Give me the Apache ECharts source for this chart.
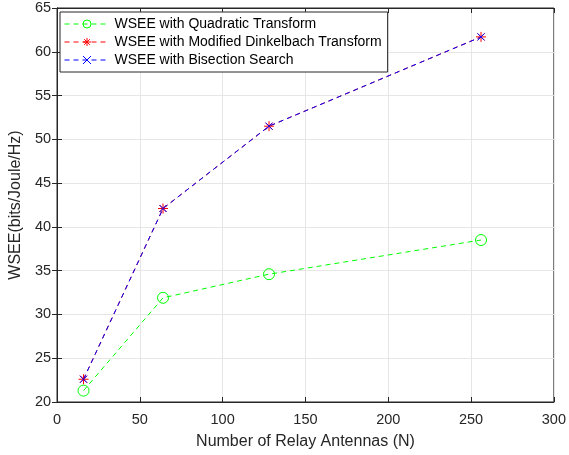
<!DOCTYPE html>
<html>
<head>
<meta charset="utf-8">
<script src="https://cdn.jsdelivr.net/npm/echarts@6/dist/echarts.min.js"></script>
<style>
  html, body { margin: 0; padding: 0; background: #fff; }
  #chart { width: 569px; height: 455px; }
</style>
</head>
<body>
<div id="chart"></div>
<script>
// relay antenna counts
const antennas = [16, 64, 128, 256]
// WSEE values
const quadratic = [21.3, 31.9, 34.6, 38.5]
const dinkelbach = [22.6, 42.1, 51.5, 61.7]
const bisection = [22.6, 42.1, 51.5, 61.7]

const names = [
  'WSEE with Quadratic Transform',
  'WSEE with Modified Dinkelbach Transform',
  'WSEE with Bisection Search'
]

const starPath = 'path://M0,-5L0,5M-5,0L5,0M-3.5,-3.5L3.5,3.5M-3.5,3.5L3.5,-3.5'
const crossPath = 'path://M-4,-4L4,4M-4,4L4,-4'

const font = 'Liberation Sans, Arial, sans-serif'
const pair = (ys) => antennas.map((x, i) => [x, ys[i]])

const chart = echarts.init(document.getElementById('chart'))

const baseAxis = {
  axisLine: { show: true, lineStyle: { color: '#262626', width: 1 } },
  axisTick: { show: true, inside: true, length: 5, lineStyle: { color: '#262626' } },
  axisLabel: { color: '#262626', fontSize: 14.5, fontFamily: font },
  splitLine: { show: true, lineStyle: { color: '#e6e6e6', width: 1 } }
}

chart.setOption({
  animation: false,
  backgroundColor: '#fff',
  grid: {
    left: 56, right: 13, top: 8, bottom: 52,
    show: true, borderColor: '#262626', borderWidth: 1, backgroundColor: '#fff'
  },
  legend: {
    orient: 'vertical',
    left: 60, top: 12,
    backgroundColor: '#fff',
    borderColor: '#262626', borderWidth: 1,
    padding: [5, 6, 5, 4],
    itemGap: 4,
    itemWidth: 45, itemHeight: 10,
    lineStyle: { width: 1 },
    itemStyle: { borderWidth: 1 },
    textStyle: { color: '#000', fontSize: 14, fontFamily: font },
    data: names
  },
  xAxis: [
    Object.assign({}, baseAxis, {
      type: 'value', min: 0, max: 300, interval: 50,
      axisLabel: Object.assign({}, baseAxis.axisLabel, { margin: 10 }),
      name: 'Number of Relay Antennas (N)',
      nameLocation: 'middle', nameGap: 32,
      nameTextStyle: { color: '#262626', fontSize: 16, fontFamily: font }
    }),
    {
      type: 'value', min: 0, max: 300, interval: 50, position: 'top',
      axisLine: { show: true, lineStyle: { color: '#262626' } },
      axisTick: { show: true, inside: true, length: 5, lineStyle: { color: '#262626' } },
      axisLabel: { show: false }, splitLine: { show: false }
    }
  ],
  yAxis: [
    Object.assign({}, baseAxis, {
      type: 'value', min: 20, max: 65, interval: 5,
      axisLabel: Object.assign({}, baseAxis.axisLabel, { margin: 6 }),
      name: 'WSEE(bits/Joule/Hz)',
      nameLocation: 'middle', nameGap: 32,
      nameTextStyle: { color: '#262626', fontSize: 16, fontFamily: font }
    }),
    {
      type: 'value', min: 20, max: 65, interval: 5, position: 'right',
      axisLine: { show: true, lineStyle: { color: '#262626' } },
      axisTick: { show: true, inside: true, length: 5, lineStyle: { color: '#262626' } },
      axisLabel: { show: false }, splitLine: { show: false }
    }
  ],
  series: [
    {
      name: names[0], type: 'line', data: pair(quadratic),
      symbol: 'circle', symbolSize: 11,
      lineStyle: { color: '#00ff00', width: 1, type: [5, 4] },
      itemStyle: { color: 'rgba(0,0,0,0)', borderColor: '#00ff00', borderWidth: 1 }
    },
    {
      name: names[1], type: 'line', data: pair(dinkelbach),
      symbol: starPath, symbolSize: 10,
      lineStyle: { color: '#ff0000', width: 1, type: [5, 4] },
      itemStyle: { color: 'none', borderColor: '#ff0000', borderWidth: 1 }
    },
    {
      name: names[2], type: 'line', data: pair(bisection),
      symbol: crossPath, symbolSize: 7,
      lineStyle: { color: '#0000ff', width: 1, type: [5, 4] },
      itemStyle: { color: 'none', borderColor: '#0000ff', borderWidth: 1 }
    }
  ]
})
</script>
</body>
</html>
